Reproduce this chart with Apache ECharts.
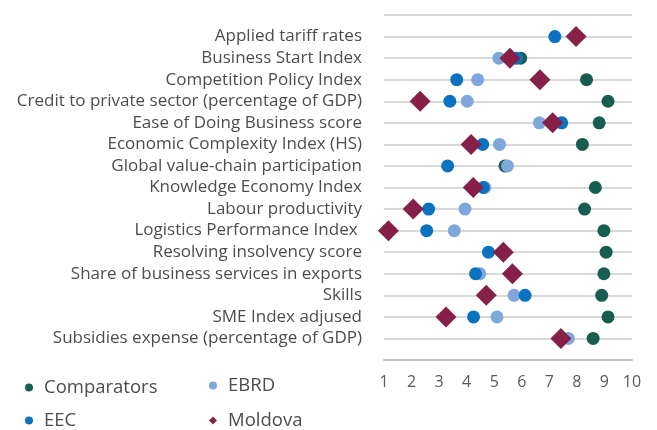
<!DOCTYPE html>
<html>
<head>
<meta charset="utf-8">
<script src="https://cdn.jsdelivr.net/npm/echarts@6/dist/echarts.min.js"></script>
<style>
  html, body { margin: 0; padding: 0; background: #fff; }
  #chart-container { width: 657px; height: 430px; }
</style>
</head>
<body>
<div id="chart-container"></div>
<script>
var dom = document.getElementById("chart-container");
var myChart = echarts.init(dom, null, { renderer: "canvas" });

const indicators = [
  "Applied tariff rates",
  "Business Start Index",
  "Competition Policy Index",
  "Credit to private sector (percentage of GDP)",
  "Ease of Doing Business score",
  "Economic Complexity Index (HS)",
  "Global value-chain participation",
  "Knowledge Economy Index",
  "Labour productivity",
  "Logistics Performance Index ",
  "Resolving insolvency score",
  "Share of business services in exports",
  "Skills",
  "SME Index adjused",
  "Subsidies expense (percentage of GDP)",
];

const comparators = [null, 5.96, 8.35, 9.13, 8.81, 8.2, 5.39, 8.67, 8.28, 8.98, 9.06, 8.98, 8.9, 9.13, 8.59];
const ebrd = [null, 5.17, 4.4, 4.02, 6.64, 5.19, 5.48, 4.66, 3.94, 3.55, null, 4.48, 5.72, 5.1, 7.69];
const eec = [7.2, 5.81, 3.64, 3.39, 7.45, 4.58, 3.31, 4.6, 2.62, 2.55, 4.79, 4.32, 6.12, 4.25, null];
const moldova = [7.97, 5.57, 6.66, 2.31, 7.12, 4.16, null, 4.24, 2.06, 1.16, 5.33, 5.66, 4.71, 3.25, 7.42];

const xTicks = [1, 2, 3, 4, 5, 6, 7, 8, 9, 10];

// blank slots above and below so the rows sit on gridlines with a line at each end
const yCategories = [""].concat(indicators, [""]);

function toPoints(values) {
  return values.map(function (v, i) {
    return [v, indicators[i]];
  });
}

const seriesDefs = [
  { name: "Comparators", values: comparators, color: "#185e50", symbol: "circle", size: 13 },
  { name: "EBRD", values: ebrd, color: "#7fa7da", symbol: "circle", size: 13 },
  { name: "EEC", values: eec, color: "#0a72bf", symbol: "circle", size: 13 },
  { name: "Moldova", values: moldova, color: "#862049", symbol: "diamond", size: 21 },
];

// one legend per entry so the 2x2 block lines up in columns
const legendSlots = [
  { name: "Comparators", left: 25, top: 378 },
  { name: "EBRD", left: 209, top: 376 },
  { name: "EEC", left: 25, top: 411 },
  { name: "Moldova", left: 209, top: 411 },
];

var option = {
  backgroundColor: "#ffffff",
  animation: false,
  grid: {
    left: 384,
    right: 25,
    top: 15,
    bottom: 70,
  },
  legend: legendSlots.map(function (slot) {
    return {
      data: [slot.name],
      left: slot.left,
      top: slot.top,
      padding: 0,
      itemWidth: 8,
      itemHeight: 8,
      textStyle: {
        color: "#4d4d4d",
        fontSize: 18.5,
        fontFamily: "Open Sans",
        padding: [4, 0, 0, 6],
      },
    };
  }),
  xAxis: {
    type: "value",
    min: 1,
    max: 10,
    interval: 1,
    axisLine: {
      show: true,
      lineStyle: { color: "#bfbfbf", width: 2 },
    },
    axisTick: { show: false },
    splitLine: { show: false },
    axisLabel: {
      color: "#595959",
      fontSize: 16,
      fontFamily: "Open Sans",
      margin: 14,
      formatter: function (v) {
        return xTicks.indexOf(v) >= 0 ? String(v) : "";
      },
    },
  },
  yAxis: {
    type: "category",
    data: yCategories,
    inverse: true,
    boundaryGap: false,
    axisLine: { show: false },
    axisTick: { show: false },
    axisLabel: {
      interval: 0,
      color: "#4d4d4d",
      fontSize: 17,
      fontFamily: "Open Sans",
      margin: 22,
    },
    splitLine: {
      show: true,
      interval: 0,
      lineStyle: { color: "#d9d9d9", width: 2 },
    },
  },
  series: seriesDefs.map(function (s) {
    return {
      name: s.name,
      type: "scatter",
      symbol: s.symbol,
      symbolSize: s.size,
      data: toPoints(s.values),
      itemStyle: { color: s.color, opacity: 1 },
    };
  }),
};

myChart.setOption(option);

window.addEventListener("resize", myChart.resize);
</script>
</body>
</html>
